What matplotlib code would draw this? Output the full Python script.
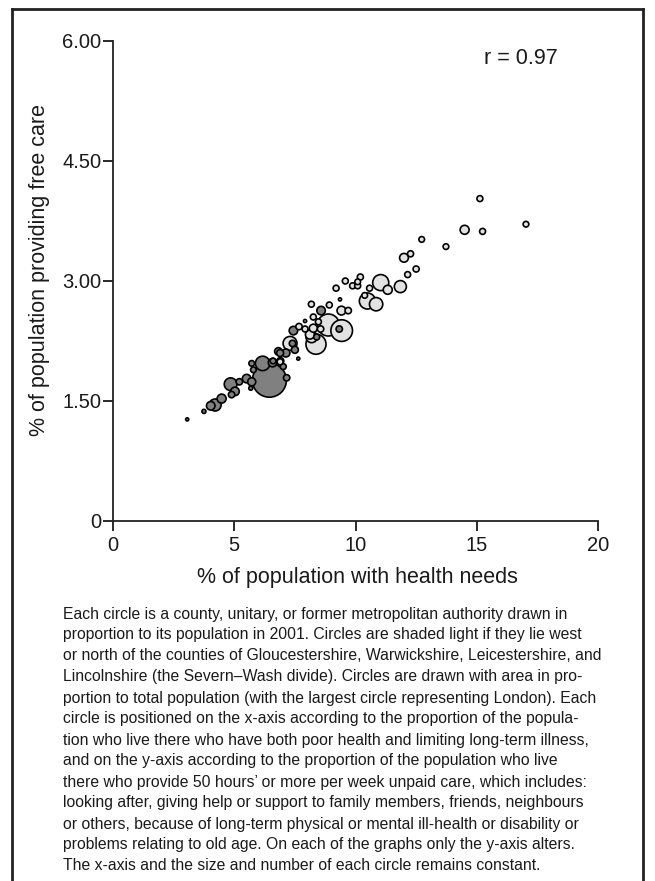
import matplotlib
matplotlib.use("Agg")
import matplotlib.pyplot as plt
import numpy as np
from matplotlib.lines import Line2D

plt.rcParams['font.family'] = ['Liberation Sans', 'DejaVu Sans']

# % of population with health needs
health = [15.13, 17.03, 14.5, 15.24, 13.73, 12.73, 12.27, 12.0, 12.5, 12.15,
          11.04, 11.33, 11.85, 10.58, 10.2, 10.09, 9.88, 10.09, 9.58, 9.2,
          10.49, 10.85, 10.38, 9.36, 8.18, 8.92, 8.58, 9.42, 9.70, 8.88,
          9.43, 8.37, 8.19, 8.56, 9.33, 8.40, 7.92, 7.67, 7.44, 7.92,
          8.26, 8.47, 8.12, 8.26, 7.30, 7.5, 7.13, 6.82, 6.89, 7.02,
          7.64, 6.45, 6.17, 6.58, 7.16, 5.72, 5.79, 5.51, 5.72, 5.68,
          5.21, 4.85, 5.03, 4.89, 4.48, 4.21, 4.03, 3.75, 3.06, 6.89,
          7.40, 6.90, 6.60]
# % of population providing free care
care = [4.03, 3.71, 3.64, 3.62, 3.43, 3.52, 3.34, 3.29, 3.15, 3.08,
        2.98, 2.89, 2.93, 2.91, 3.05, 2.99, 2.94, 2.94, 3.00, 2.91,
        2.75, 2.71, 2.82, 2.77, 2.71, 2.70, 2.63, 2.63, 2.63, 2.45,
        2.38, 2.21, 2.30, 2.40, 2.40, 2.30, 2.40, 2.43, 2.38, 2.50,
        2.55, 2.49, 2.33, 2.41, 2.22, 2.14, 2.10, 2.12, 1.99, 1.93,
        2.03, 1.76, 1.97, 1.98, 1.79, 1.97, 1.89, 1.78, 1.74, 1.66,
        1.74, 1.71, 1.62, 1.58, 1.53, 1.45, 1.44, 1.37, 1.27, 2.10,
        2.22, 2.00, 2.00]
# population in 2001 (thousands)
population = [220, 200, 500, 220, 200, 200, 230, 480, 230, 220,
              1600, 500, 900, 220, 230, 200, 220, 220, 220, 220,
              1600, 1100, 200, 60, 220, 220, 450, 480, 250, 3000,
              2900, 2500, 800, 250, 250, 220, 220, 250, 450, 60,
              220, 220, 500, 400, 1200, 300, 400, 350, 220, 220,
              60, 7172, 1300, 450, 250, 200, 200, 450, 400, 100,
              250, 1000, 450, 250, 500, 900, 450, 100, 60, 300,
              250, 300, 200]
# N = north/west of Severn-Wash divide (light), S = south/east (dark)
region = ['N', 'N', 'N', 'N', 'N', 'N', 'N', 'N', 'N', 'N',
          'N', 'N', 'N', 'N', 'N', 'N', 'N', 'N', 'N', 'N',
          'N', 'N', 'N', 'N', 'N', 'N', 'S', 'N', 'N', 'N',
          'N', 'N', 'N', 'N', 'S', 'S', 'N', 'N', 'S', 'N',
          'N', 'N', 'N', 'N', 'N', 'S', 'S', 'S', 'N', 'S',
          'S', 'S', 'S', 'S', 'S', 'S', 'S', 'S', 'S', 'S',
          'S', 'S', 'S', 'S', 'S', 'S', 'S', 'S', 'S', 'S',
          'S', 'S', 'S']

x_ticks = [0, 5, 10, 15, 20]
x_ticklabels = ['0', '5', '10', '15', '20']
y_ticks = [0, 1.5, 3.0, 4.5, 6.0]
y_ticklabels = ['0', '1.50', '3.00', '4.50', '6.00']

caption_lines = [
    "Each circle is a county, unitary, or former metropolitan authority drawn in",
    "proportion to its population in 2001. Circles are shaded light if they lie west",
    "or north of the counties of Gloucestershire, Warwickshire, Leicestershire, and",
    "Lincolnshire (the Severn\u2013Wash divide). Circles are drawn with area in pro-",
    "portion to total population (with the largest circle representing London). Each",
    "circle is positioned on the x-axis according to the proportion of the popula-",
    "tion who live there who have both poor health and limiting long-term illness,",
    "and on the y-axis according to the proportion of the population who live",
    "there who provide 50 hours\u2019 or more per week unpaid care, which includes:",
    "looking after, giving help or support to family members, friends, neighbours",
    "or others, because of long-term physical or mental ill-health or disability or",
    "problems relating to old age. On each of the graphs only the y-axis alters.",
    "The x-axis and the size and number of each circle remains constant.",
]

W, H = 655, 881
TXT = '#1a1a1a'
fig = plt.figure(figsize=(W / 100, H / 100), dpi=100)
ax = fig.add_axes([113 / W, 1 - 521 / H, (598 - 113) / W, (521 - 41) / H])

pop = np.array(population, dtype=float)
r_px = 17.0 * np.sqrt(pop / 7172.0)
sizes = (2 * r_px * 0.72) ** 2
colors = np.array(['#e2e2e2' if g == 'N' else '#808080' for g in region])
order = np.argsort(-pop)
ax.scatter(np.array(health)[order], np.array(care)[order], s=sizes[order],
           c=colors[order], edgecolors='black', linewidths=1.2, zorder=3,
           clip_on=False)

ax.set_xlim(0, 20)
ax.set_ylim(0, 6)
ax.set_xticks(x_ticks)
ax.set_xticklabels(x_ticklabels)
ax.set_yticks(y_ticks)
ax.set_yticklabels(y_ticklabels)
for s in ['top', 'right']:
    ax.spines[s].set_visible(False)
for s in ['left', 'bottom']:
    ax.spines[s].set_linewidth(1.3)
    ax.spines[s].set_color('#222222')
ax.tick_params(axis='both', direction='out', length=7, width=1.3,
               labelsize=14.5, colors=TXT)
ax.tick_params(axis='y', pad=1.5)
ax.tick_params(axis='x', pad=4)

fig.text(357 / W, 1 - 578 / H, '% of population with health needs',
         fontsize=15.5, ha='center', va='center', color=TXT)
fig.text(40 / W, 1 - 270 / H, '% of population providing free care',
         fontsize=15.5, ha='center', va='center', rotation=90, color=TXT)

fig.text(521 / W, 1 - 59 / H, 'r = 0.97', fontsize=15.5, ha='center',
         va='center', color=TXT)

# frame
lw = 2.0
fig.add_artist(Line2D([12 / W, 12 / W], [0, 1 - 9 / H], color='#222222', lw=lw,
                      transform=fig.transFigure))
fig.add_artist(Line2D([643 / W, 643 / W], [0, 1 - 9 / H], color='#222222', lw=lw,
                      transform=fig.transFigure))
fig.add_artist(Line2D([12 / W, 643 / W], [1 - 9 / H, 1 - 9 / H], color='#222222',
                      lw=lw, transform=fig.transFigure))

y0 = 614
dy = 21.0
for i, line in enumerate(caption_lines):
    fig.text(63 / W, 1 - (y0 + i * dy) / H, line, fontsize=11.3, ha='left',
             va='center', color=TXT)

fig.savefig('out.png', dpi=100)
